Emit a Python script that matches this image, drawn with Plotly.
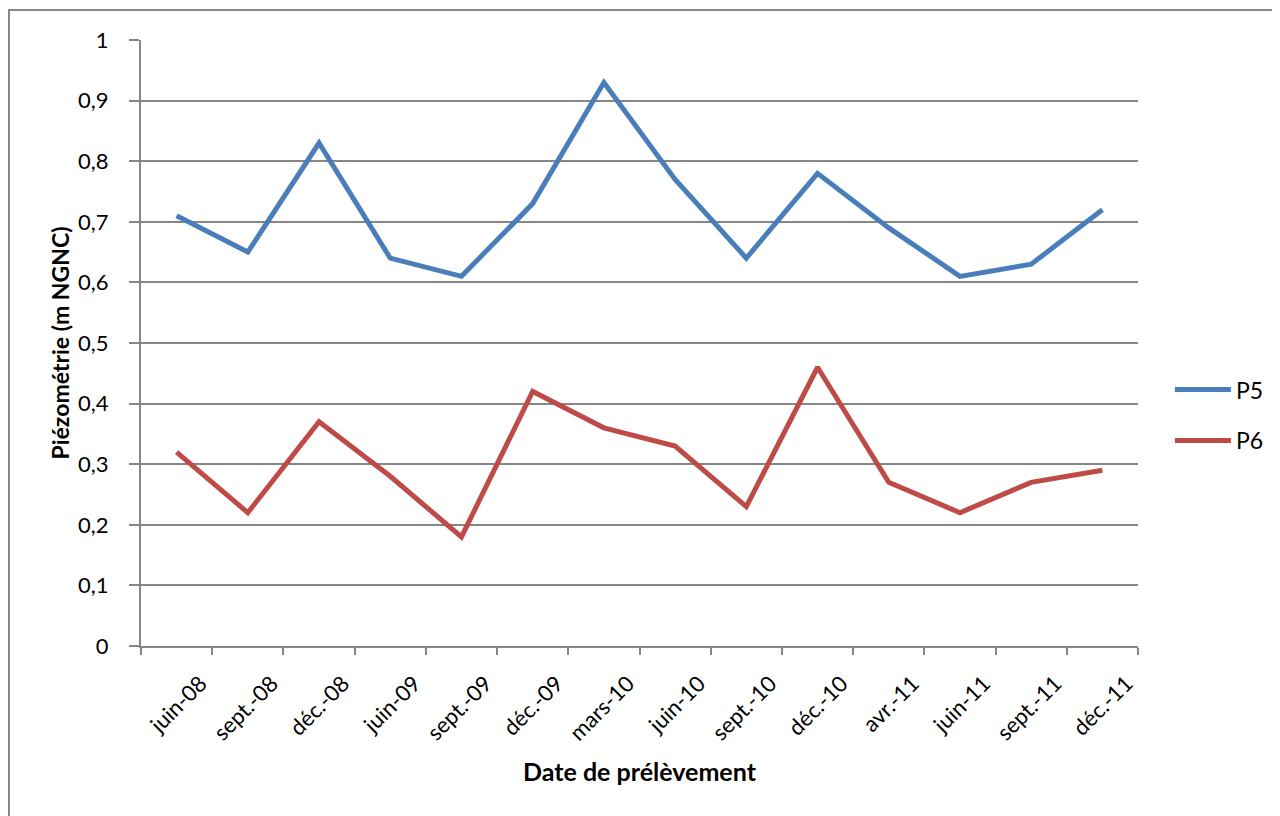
import plotly.graph_objects as go

categories = ["juin-08", "sept.-08", "déc.-08", "juin-09", "sept.-09", "déc.-09", "mars-10",
              "juin-10", "sept.-10", "déc.-10", "avr.-11", "juin-11", "sept.-11", "déc.-11"]
p5 = [0.71, 0.65, 0.83, 0.64, 0.61, 0.73, 0.93, 0.77, 0.64, 0.78, 0.69, 0.61, 0.63, 0.72]
p6 = [0.32, 0.22, 0.37, 0.28, 0.18, 0.42, 0.36, 0.33, 0.23, 0.46, 0.27, 0.22, 0.27, 0.29]
y_ticks = [0, 0.1, 0.2, 0.3, 0.4, 0.5, 0.6, 0.7, 0.8, 0.9, 1]
y_labels = ["0", "0,1", "0,2", "0,3", "0,4", "0,5", "0,6", "0,7", "0,8", "0,9", "1"]

FONT = "Lato"
GRID = "#868686"

fig = go.Figure()
fig.add_trace(go.Scatter(x=categories, y=p5, mode="lines", name="P5", legendgroup="a",
                         line=dict(color="#4A7EBB", width=5)))
fig.add_trace(go.Scatter(x=categories, y=p6, mode="lines", name="P6", legendgroup="b",
                         line=dict(color="#BE4B48", width=5)))

fig.update_layout(
    width=1280, height=816,
    margin=dict(l=133, r=150, t=32, b=178),
    paper_bgcolor="white", plot_bgcolor="white",
    font=dict(family=FONT, size=22, color="black"),
    showlegend=True,
    legend=dict(x=1.032, y=0.381, xanchor="left", yanchor="middle",
                font=dict(family=FONT, size=23), tracegroupgap=18, itemwidth=56,
                bgcolor="rgba(0,0,0,0)"),
    xaxis=dict(type="category", tickson="boundaries", ticks="outside", ticklen=7,
               tickcolor=GRID, tickwidth=2, showline=True, linecolor=GRID, linewidth=2,
               showgrid=False, tickangle=-45, tickfont=dict(family=FONT, size=22),
               ticklabelshift=24, ticklabelstandoff=14,
               title=dict(text="<b>Date de prélèvement</b>", font=dict(family=FONT, size=25),
                          standoff=19),
               range=[-0.5, len(categories) - 0.5], fixedrange=True),
    yaxis=dict(range=[0, 1], tickvals=y_ticks, ticktext=y_labels, ticks="outside", ticklen=10,
               tickcolor=GRID, tickwidth=2, showline=True, linecolor=GRID, linewidth=2,
               showgrid=True, gridcolor=GRID, gridwidth=1.5, zeroline=False,
               tickfont=dict(family=FONT, size=22), ticklabelstandoff=16,
               title=dict(text="<b>Piézométrie (m NGNC)</b>", font=dict(family=FONT, size=23),
                          standoff=2)),
)

fig.add_shape(type="rect", xref="paper", yref="paper",
              x0=(9 - 141) / 997, x1=1.3, y0=-0.5, y1=(646 - 10) / 606,
              line=dict(color=GRID, width=2), fillcolor="rgba(0,0,0,0)", layer="below")

fig.write_html("out.html")
